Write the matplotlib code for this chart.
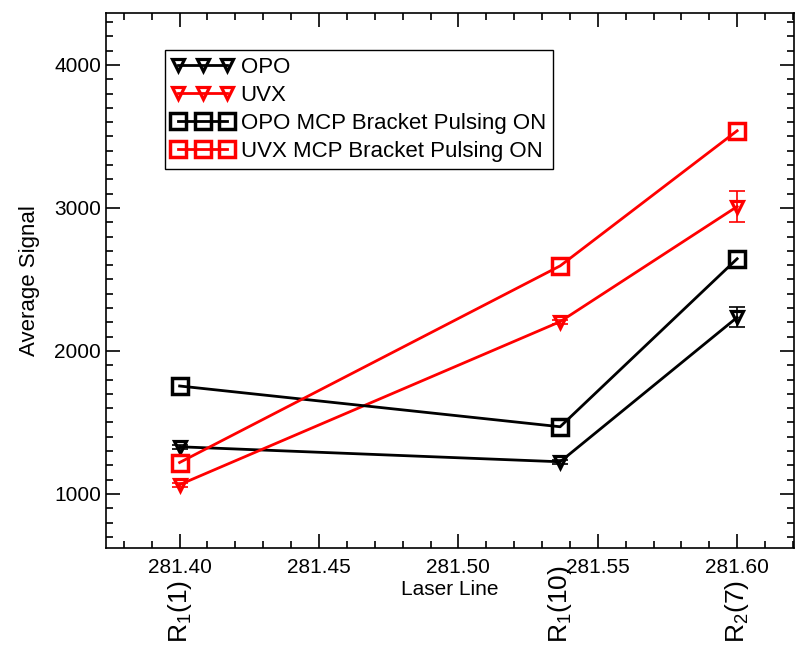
import matplotlib
matplotlib.use('Agg')
import matplotlib.pyplot as plt
import matplotlib.transforms as mtransforms
import numpy as np

plt.rcParams['font.family'] = ['Liberation Sans', 'DejaVu Sans']

# laser line positions
wavelength = [281.40, 281.5365, 281.60]
line_names = [r'R$_\mathregular{1}$(1)', r'R$_\mathregular{1}$(10)', r'R$_\mathregular{2}$(7)']

opo = [1330, 1225, 2235]
opo_err = [15, 15, 70]
uvx = [1065, 2205, 3010]
uvx_err = [15, 15, 110]
opo_mcp = [1755, 1470, 2645]
uvx_mcp = [1220, 2595, 3540]

fig = plt.figure(figsize=(7.96, 6.47), dpi=100)
ax = fig.add_axes([0.1332, 0.153, 0.8643, 0.827])

ax.errorbar(wavelength, opo, yerr=opo_err, fmt='none', ecolor='black', capsize=6,
            elinewidth=1.2, capthick=1.2)
ax.errorbar(wavelength, uvx, yerr=uvx_err, fmt='none', ecolor='red', capsize=6,
            elinewidth=1.2, capthick=1.2)
ax.plot(wavelength, opo, color='black', marker='v', ms=9, mfc='none', mew=2.3, lw=2,
        label='OPO')
ax.plot(wavelength, uvx, color='red', marker='v', ms=9, mfc='none', mew=2.3, lw=2,
        label='UVX')
ax.plot(wavelength, opo_mcp, color='black', marker='s', ms=11, mfc='none', mew=2.5, lw=2,
        label='OPO MCP Bracket Pulsing ON')
ax.plot(wavelength, uvx_mcp, color='red', marker='s', ms=11, mfc='none', mew=2.5, lw=2,
        label='UVX MCP Bracket Pulsing ON')

ax.set_xlim(281.3736, 281.6204)
ax.set_ylim(622, 4364)
ax.set_xticks(np.arange(281.40, 281.601, 0.05))
ax.set_xticklabels(['%.2f' % v for v in np.arange(281.40, 281.601, 0.05)])
ax.set_xticks(np.arange(281.38, 281.62, 0.01), minor=True)
ax.set_yticks([1000, 2000, 3000, 4000])
ax.set_yticks(np.arange(700, 4400, 100), minor=True)
ax.tick_params(which='both', direction='in', top=True, right=True, labelsize=15, width=1.2)
ax.tick_params(which='major', length=10)
ax.tick_params(which='minor', length=5)
ax.tick_params(axis='x', pad=7)
for s in ax.spines.values():
    s.set_linewidth(1.2)

ax.set_xlabel('Laser Line', fontsize=15, labelpad=2)
ax.set_ylabel('Average Signal', fontsize=16, labelpad=10)

# rotated line names below the axis
trans = mtransforms.blended_transform_factory(ax.transData, fig.transFigure)
for x, name in zip(wavelength, line_names):
    ax.text(x, 0.006, name, transform=trans, rotation=90, ha='center', va='bottom',
            fontsize=19)

leg = ax.legend(loc='upper left', bbox_to_anchor=(0.0858, 0.931), borderaxespad=0,
                numpoints=3, handlelength=2.8, handletextpad=0.3, fontsize=16,
                fancybox=False, edgecolor='black', labelspacing=0.32, borderpad=0.3,
                framealpha=1)
leg.get_frame().set_linewidth(1.0)

fig.savefig('out.png', dpi=100)
